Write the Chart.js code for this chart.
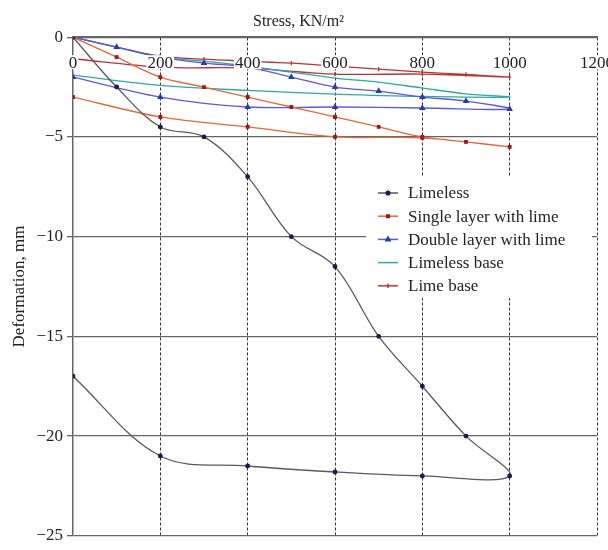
<!DOCTYPE html>
<html>
<head>
<meta charset="utf-8">
<script src="https://cdn.jsdelivr.net/npm/chart.js@4.4.1/dist/chart.umd.min.js"></script>
<style>
  html, body { margin: 0; padding: 0; background: #fff; }
</style>
</head>
<body>
<canvas id="chartStress" width="608" height="550"></canvas>
<script>
// stress steps, KN/m2 : loading path then unloading path
const stressLoad = [0, 100, 200, 300, 400, 500, 600, 700, 800, 900, 1000];
const stressUnload = [1000, 800, 600, 400, 200, 0];
const xTicks = [0, 200, 400, 600, 800, 1000, 1200];

// deformation, mm
const limelessLoad = [0, -2.5, -4.5, -5, -7, -10, -11.5, -15, -17.5, -20, -22];
const limelessUnload = [-22, -22, -21.8, -21.5, -21, -17];
const singleLoad = [0, -1, -2, -2.5, -3, -3.5, -4, -4.5, -5, -5.25, -5.5];
const singleUnload = [-5.5, -5.05, -5, -4.5, -4, -3];
const doubleLoad = [0, -0.5, -1, -1.3, -1.5, -2, -2.5, -2.7, -3, -3.2, -3.6];
const doubleUnload = [-3.6, -3.55, -3.5, -3.5, -3, -2];
const limelessBaseLoad = [0, -0.5, -1, -1.2, -1.45, -1.75, -2.05, -2.25, -2.55, -2.84, -3];
const limelessBaseUnload = [-3, -2.97, -2.85, -2.67, -2.42, -1.9];
const limeBaseLoad = [0, -0.5, -0.95, -1.1, -1.2, -1.3, -1.45, -1.6, -1.75, -1.87, -2];
const limeBaseUnload = [-2, -1.85, -1.85, -1.55, -1.5, -1.08];

const serif = "'Liberation Serif', 'DejaVu Serif', serif";

function loop(load, unload) {
    const pts = load.map((v, i) => ({ x: stressLoad[i], y: v }));
    unload.slice(1).forEach((v, i) => pts.push({ x: stressUnload[i + 1], y: v }));
    return pts;
}

// x labels sit inside the plot, under the top axis line
const topLabels = {
    id: "topLabels",
    afterDatasetsDraw: (chart) => {
        const ctx = chart.ctx;
        const xScale = chart.scales.x;
        const y = chart.chartArea.top + 25;
        ctx.save();
        ctx.font = "17px " + serif;
        ctx.textAlign = "center";
        ctx.textBaseline = "middle";
        xTicks.forEach((v) => {
            const x = xScale.getPixelForValue(v);
            const w = ctx.measureText(String(v)).width;
            ctx.fillStyle = "#fff";
            ctx.fillRect(x - w / 2 - 1, y - 7, w + 2, 14);
            ctx.fillStyle = "#222";
            ctx.fillText(String(v), x, y + 1);
        });
        ctx.restore();
    },
};

// legend box inside the plot, right side
const legendBox = {
    id: "legendBox",
    afterDraw: (chart) => {
        const ctx = chart.ctx;
        ctx.save();
        ctx.fillStyle = "#fff";
        ctx.fillRect(366, 177, 226, 121);
        ctx.font = "17px " + serif;
        ctx.textBaseline = "middle";
        ctx.textAlign = "left";
        chart.data.datasets.forEach((ds, i) => {
            const y = 193 + i * 23.2;
            ctx.strokeStyle = ds.borderColor;
            ctx.lineWidth = 1.5;
            ctx.beginPath();
            ctx.moveTo(378, y);
            ctx.lineTo(398, y);
            ctx.stroke();
            if (ds.pointRadius > 0) {
                ctx.fillStyle = ds.pointBackgroundColor;
                ctx.strokeStyle = ds.pointBorderColor;
                Chart.helpers.drawPoint(
                    ctx,
                    {
                        pointStyle: ds.pointStyle,
                        radius: ds.pointRadius,
                        rotation: ds.pointRotation || 0,
                        borderWidth: 1,
                    },
                    388,
                    y
                );
            }
            ctx.fillStyle = "#222";
            ctx.fillText(ds.label, 408, y + 1);
        });
        ctx.restore();
    },
};

const ctxStress = document.getElementById("chartStress").getContext("2d");

new Chart(ctxStress, {
    type: "scatter",
    data: {
        datasets: [
            {
                label: "Limeless",
                data: loop(limelessLoad, limelessUnload),
                borderColor: "#5a5a5a",
                pointBackgroundColor: "#1b1b55",
                pointBorderColor: "#1b1b55",
                pointStyle: "circle",
                pointRadius: 1.8,
            },
            {
                label: "Single layer with lime",
                data: loop(singleLoad, singleUnload),
                borderColor: "#df6a3c",
                pointBackgroundColor: "#a3161a",
                pointBorderColor: "#a3161a",
                pointStyle: "rect",
                pointRadius: 1.8,
            },
            {
                label: "Double layer with lime",
                data: loop(doubleLoad, doubleUnload),
                borderColor: "#5b5bd6",
                pointBackgroundColor: "#2b3aa8",
                pointBorderColor: "#2b3aa8",
                pointStyle: "triangle",
                pointRadius: 2.5,
            },
            {
                label: "Limeless base",
                data: loop(limelessBaseLoad, limelessBaseUnload),
                borderColor: "#2fa8a6",
                pointBackgroundColor: "#2fa8a6",
                pointBorderColor: "#2fa8a6",
                pointRadius: 0,
            },
            {
                label: "Lime base",
                data: loop(limeBaseLoad, limeBaseUnload),
                borderColor: "#b73434",
                pointBackgroundColor: "#b73434",
                pointBorderColor: "#b73434",
                pointStyle: "line",
                pointRotation: 90,
                pointRadius: 2.2,
            },
        ],
    },
    options: {
        responsive: false,
        animation: false,
        datasets: {
            scatter: {
                showLine: true,
                tension: 0.35,
                borderWidth: 1.3,
            },
        },
        layout: { padding: { left: 0, right: 11, top: 0, bottom: 9 } },
        plugins: {
            legend: { display: false },
            tooltip: { enabled: false },
            title: {
                display: true,
                text: "Stress, KN/m\u00b2",
                color: "#222",
                font: { family: serif, size: 16, weight: "normal" },
                padding: { top: 12, bottom: 6 },
            },
        },
        scales: {
            x: {
                type: "linear",
                position: "top",
                min: 0,
                max: 1200,
                afterFit: (scale) => {
                    scale.height = 0;
                },
                ticks: { stepSize: 200, display: false },
                grid: {
                    drawTicks: false,
                    color: (c) =>
                        c.tick && c.tick.value === 0 ? "rgba(0,0,0,0)" : "#333",
                    lineWidth: 1,
                },
                border: { display: true, color: "#666", width: 1.5, dash: [3, 2] },
            },
            y: {
                min: -25,
                max: 0,
                afterFit: (scale) => {
                    scale.width = 73;
                },
                ticks: {
                    stepSize: 5,
                    padding: 4,
                    color: "#222",
                    font: { family: serif, size: 17 },
                    callback: (v) => String(v).replace("-", "\u2212"),
                },
                grid: { color: "#666", lineWidth: 1.3, tickLength: 6 },
                border: { display: true, color: "#666", width: 1.5 },
                title: {
                    display: true,
                    text: "Deformation, mm",
                    color: "#222",
                    font: { family: serif, size: 17 },
                    padding: { top: 9, bottom: 0 },
                },
            },
        },
    },
    plugins: [topLabels, legendBox],
});
</script>
</body>
</html>
